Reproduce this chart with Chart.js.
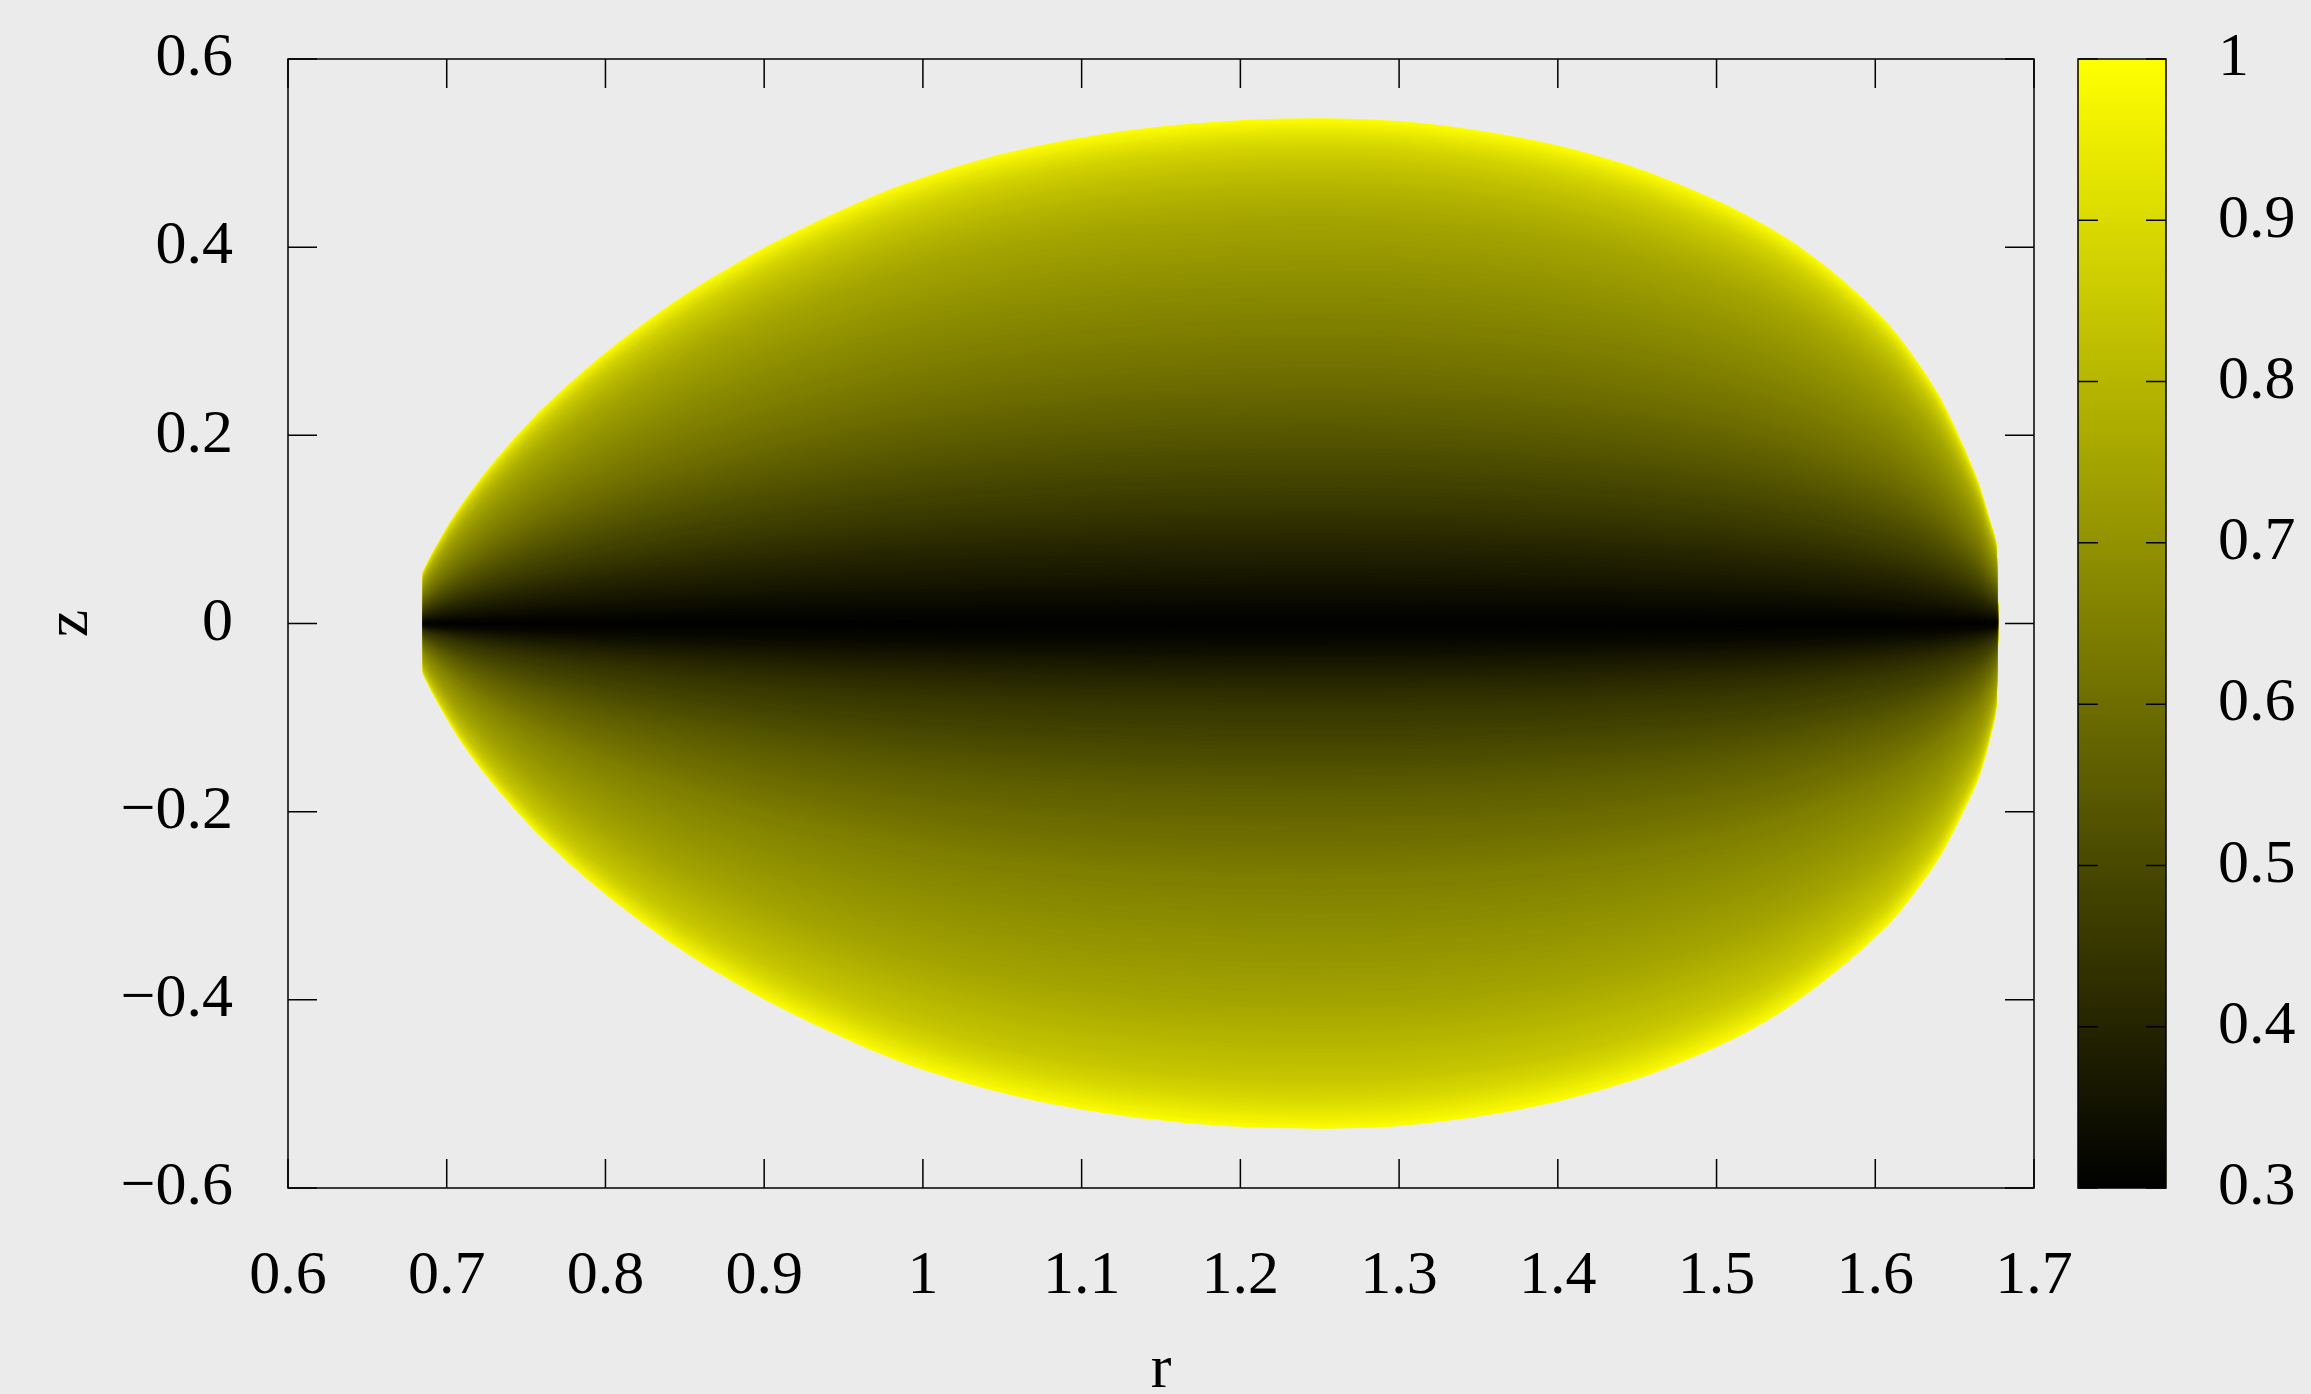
<!DOCTYPE html>
<html>
<head>
<meta charset="utf-8">
<script src="https://cdn.jsdelivr.net/npm/chart.js@4.4.1/dist/chart.umd.min.js"></script>
<style>
html,body{margin:0;padding:0;background:#ebebeb;}
#wrap{width:2311px;height:1394px;position:relative;}
canvas{display:block;}
</style>
</head>
<body>
<div id="wrap"><canvas id="c" width="2311" height="1394"></canvas></div>
<script>
// ---- data ----
// plasma boundary: r positions and upper / lower z of the boundary
const boundaryR = [0.685, 0.69, 0.70, 0.71, 0.725, 0.74, 0.76, 0.79, 0.82, 0.855, 0.89, 0.904, 0.934, 0.98, 1.03, 1.073, 1.12, 1.161, 1.20, 1.25, 1.30, 1.35, 1.40, 1.45, 1.50, 1.53, 1.55, 1.57, 1.59, 1.61, 1.625, 1.64, 1.65, 1.657, 1.665, 1.6715, 1.6765];
const boundaryZTop = [0.055, 0.072, 0.102, 0.128, 0.162, 0.192, 0.228, 0.274, 0.314, 0.355, 0.390, 0.403, 0.428, 0.462, 0.490, 0.508, 0.522, 0.530, 0.535, 0.537, 0.534, 0.524, 0.508, 0.484, 0.450, 0.424, 0.403, 0.378, 0.349, 0.315, 0.282, 0.243, 0.209, 0.183, 0.150, 0.114, 0.082];
const boundaryZBottom = [-0.054, -0.071, -0.101, -0.128, -0.162, -0.192, -0.228, -0.274, -0.314, -0.355, -0.390, -0.403, -0.428, -0.462, -0.490, -0.508, -0.522, -0.530, -0.535, -0.537, -0.534, -0.524, -0.508, -0.484, -0.450, -0.424, -0.402, -0.377, -0.349, -0.317, -0.286, -0.250, -0.219, -0.195, -0.165, -0.128, -0.085];
// field value profile against normalised height |z| / z_boundary(r)
const profileFrac  = [0, 0.04, 0.08, 0.12, 0.16, 0.20, 0.25, 0.30, 0.35, 0.40, 0.45, 0.50, 0.55, 0.60, 0.65, 0.70, 0.75, 0.80, 0.85, 0.90, 0.94, 0.97, 0.99, 1.00];
const profileUpper = [0.300, 0.325, 0.352, 0.378, 0.402, 0.430, 0.463, 0.493, 0.522, 0.551, 0.580, 0.607, 0.630, 0.654, 0.677, 0.700, 0.725, 0.750, 0.785, 0.830, 0.875, 0.930, 0.975, 1.000];
const profileLower = [0.300, 0.325, 0.368, 0.408, 0.442, 0.468, 0.500, 0.532, 0.563, 0.589, 0.614, 0.643, 0.665, 0.686, 0.706, 0.727, 0.749, 0.778, 0.810, 0.843, 0.890, 0.940, 0.975, 1.000];
// axes
const xTicks = [0.6, 0.7, 0.8, 0.9, 1.0, 1.1, 1.2, 1.3, 1.4, 1.5, 1.6, 1.7];
const xTickLabels = ['0.6', '0.7', '0.8', '0.9', '1', '1.1', '1.2', '1.3', '1.4', '1.5', '1.6', '1.7'];
const yTicks = [-0.6, -0.4, -0.2, 0, 0.2, 0.4, 0.6];
const yTickLabels = ['\u22120.6', '\u22120.4', '\u22120.2', '0', '0.2', '0.4', '0.6'];
const cbTicks = [0.3, 0.4, 0.5, 0.6, 0.7, 0.8, 0.9, 1.0];
const cbTickLabels = ['0.3', '0.4', '0.5', '0.6', '0.7', '0.8', '0.9', '1'];
const cbMin = 0.3, cbMax = 1.0;

// ---- helpers ----
function colour(v) {
  let t = (v - cbMin) / (cbMax - cbMin);
  t = Math.max(0, Math.min(1, t));
  const c = Math.round(255 * t);
  return 'rgb(' + c + ',' + c + ',0)';
}
// normalised height at which a profile reaches value v
function fracAt(profile, v) {
  for (let k = 0; k < profile.length - 1; k++) {
    if (v >= profile[k] && v <= profile[k + 1]) {
      const d = profile[k + 1] - profile[k];
      const f = d > 0 ? (v - profile[k]) / d : 0;
      return profileFrac[k] + f * (profileFrac[k + 1] - profileFrac[k]);
    }
  }
  return v <= profile[0] ? 0 : 1;
}

// filled contour regions (value <= level), drawn from inner (index 0, on top) to outer
const bandStep = 0.005;
const nBands = Math.round((cbMax - cbMin) / bandStep);
const datasets = [];
for (let i = 1; i <= nBands; i++) {
  const level = cbMin + i * bandStep;
  const su = fracAt(profileUpper, level);
  const sl = fracAt(profileLower, level);
  const pts = [];
  for (let j = 0; j < boundaryR.length; j++) pts.push({x: boundaryR[j], y: boundaryZTop[j] * su});
  for (let j = boundaryR.length - 1; j >= 0; j--) pts.push({x: boundaryR[j], y: boundaryZBottom[j] * sl});
  const col = colour(level - bandStep / 2);
  datasets.push({
    type: 'line', data: pts, showLine: true, fill: 'shape',
    backgroundColor: col, borderColor: 'rgba(0,0,0,0)', borderWidth: 0,
    pointRadius: 0, pointHoverRadius: 0, tension: 0.3
  });
}

const FONT = "'Liberation Serif', 'Times New Roman', serif";
const FS = 62;

const framePlugin = {
  id: 'frame',
  afterDraw(chart) {
    const ctx = chart.ctx;
    const a = chart.chartArea;
    const xs = chart.scales.x, ys = chart.scales.y, cs = chart.scales.cb;
    const tl = 29;
    ctx.save();
    ctx.strokeStyle = '#000';
    ctx.lineWidth = 1.5;
    ctx.strokeRect(a.left, a.top, a.right - a.left, a.bottom - a.top);
    ctx.beginPath();
    xTicks.forEach(v => {
      const px = xs.getPixelForValue(v);
      ctx.moveTo(px, a.bottom); ctx.lineTo(px, a.bottom - tl);
      ctx.moveTo(px, a.top); ctx.lineTo(px, a.top + tl);
    });
    yTicks.forEach(v => {
      const py = ys.getPixelForValue(v);
      ctx.moveTo(a.left, py); ctx.lineTo(a.left + tl, py);
      ctx.moveTo(a.right, py); ctx.lineTo(a.right - tl, py);
    });
    ctx.stroke();
    // colour bar
    const bx0 = a.right + 44, bx1 = a.right + 132;
    const yTop = cs.getPixelForValue(cbMax), yBot = cs.getPixelForValue(cbMin);
    const g = ctx.createLinearGradient(0, yBot, 0, yTop);
    g.addColorStop(0, colour(cbMin));
    g.addColorStop(1, colour(cbMax));
    ctx.fillStyle = g;
    ctx.fillRect(bx0, yTop, bx1 - bx0, yBot - yTop);
    ctx.strokeRect(bx0, yTop, bx1 - bx0, yBot - yTop);
    ctx.beginPath();
    cbTicks.forEach(v => {
      const py = cs.getPixelForValue(v);
      ctx.moveTo(bx0, py); ctx.lineTo(bx0 + 20, py);
      ctx.moveTo(bx1, py); ctx.lineTo(bx1 - 20, py);
    });
    ctx.stroke();
    ctx.restore();
  }
};

function noPad(s) { s.paddingTop = 0; s.paddingBottom = 0; s.paddingLeft = 0; s.paddingRight = 0; }

new Chart(document.getElementById('c'), {
  type: 'scatter',
  data: {datasets},
  options: {
    responsive: false,
    devicePixelRatio: 1,
    animation: false,
    events: [],
    layout: {padding: {top: 59, left: 0, right: 0, bottom: 0}},
    plugins: {legend: {display: false}, tooltip: {enabled: false}},
    scales: {
      x: {
        type: 'linear', position: 'bottom', min: 0.6, max: 1.7,
        afterBuildTicks: s => { s.ticks = xTicks.map(v => ({value: v})); },
        afterFit: s => { s.height = 206; noPad(s); },
        grid: {display: false, drawTicks: false}, border: {display: false},
        ticks: {color: '#000', font: {family: FONT, size: FS}, padding: 52, maxRotation: 0, autoSkip: false,
                callback: (v, i) => xTickLabels[i]},
        title: {display: true, text: 'r', color: '#000', font: {family: FONT, size: FS}, padding: {top: 0, bottom: -14}}
      },
      y: {
        type: 'linear', position: 'left', min: -0.6, max: 0.6,
        afterBuildTicks: s => { s.ticks = yTicks.map(v => ({value: v})); },
        afterFit: s => { s.width = 288; noPad(s); },
        grid: {display: false, drawTicks: false}, border: {display: false},
        ticks: {color: '#000', font: {family: FONT, size: FS}, padding: 55, autoSkip: false,
                callback: (v, i) => yTickLabels[i]},
        title: {display: true, text: 'z', color: '#000', font: {family: FONT, size: FS}, padding: {top: 34, bottom: 0}}
      },
      cb: {
        type: 'linear', axis: 'y', position: 'right', min: cbMin, max: cbMax,
        afterBuildTicks: s => { s.ticks = cbTicks.map(v => ({value: v})); },
        afterFit: s => { s.width = 277; noPad(s); },
        grid: {display: false, drawTicks: false}, border: {display: false},
        ticks: {color: '#000', font: {family: FONT, size: FS}, padding: 184, autoSkip: false,
                callback: (v, i) => cbTickLabels[i]}
      }
    }
  },
  plugins: [framePlugin]
});
</script>
</body>
</html>
